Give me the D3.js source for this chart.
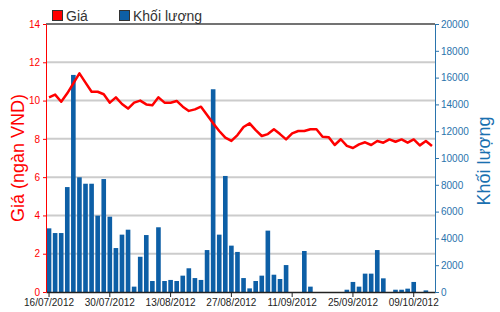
<!DOCTYPE html>
<html>
<head>
<meta charset="utf-8">
<script src="https://cdn.jsdelivr.net/npm/d3@7"></script>
<style>
  body { margin: 0; background: #fff; }
  svg { display: block; font-family: 'Liberation Sans', Arial, sans-serif; }
</style>
</head>
<body>
<div id="chart"></div>
<script>
// trading days shown on the x axis
const dates = [
  '16/07/2012', '17/07/2012', '18/07/2012', '19/07/2012', '20/07/2012',
  '23/07/2012', '24/07/2012', '25/07/2012', '26/07/2012', '27/07/2012',
  '30/07/2012', '31/07/2012', '01/08/2012', '02/08/2012', '03/08/2012',
  '06/08/2012', '07/08/2012', '08/08/2012', '09/08/2012', '10/08/2012',
  '13/08/2012', '14/08/2012', '15/08/2012', '16/08/2012', '17/08/2012',
  '20/08/2012', '21/08/2012', '22/08/2012', '23/08/2012', '24/08/2012',
  '27/08/2012', '28/08/2012', '29/08/2012', '30/08/2012', '31/08/2012',
  '04/09/2012', '05/09/2012', '06/09/2012', '07/09/2012', '10/09/2012',
  '11/09/2012', '12/09/2012', '13/09/2012', '14/09/2012', '17/09/2012',
  '18/09/2012', '19/09/2012', '20/09/2012', '21/09/2012', '24/09/2012',
  '25/09/2012', '26/09/2012', '27/09/2012', '28/09/2012', '01/10/2012',
  '02/10/2012', '03/10/2012', '04/10/2012', '05/10/2012', '08/10/2012',
  '09/10/2012', '10/10/2012', '11/10/2012', '12/10/2012'
]

// Giá (ngàn VND)
const prices = [
  10.17, 10.31, 9.94, 10.38, 10.90, 11.42, 10.94, 10.46, 10.46, 10.33,
  9.89, 10.17, 9.82, 9.58, 9.89, 10.0, 9.80, 9.75, 10.17, 9.89,
  9.89, 9.98, 9.68, 9.46, 9.54, 9.68, 9.25, 8.81, 8.41, 8.06,
  7.89, 8.20, 8.62, 8.81, 8.46, 8.15, 8.25, 8.50, 8.25, 7.97,
  8.29, 8.41, 8.41, 8.50, 8.50, 8.11, 8.09, 7.68, 7.98, 7.63,
  7.52, 7.71, 7.82, 7.68, 7.89, 7.80, 7.97, 7.85, 7.97, 7.80,
  7.97, 7.66, 7.89, 7.63
]

// Khối lượng
const volumes = [
  4750, 4400, 4400, 7830, 16200, 8560, 8080, 8080, 5700, 8430,
  5620, 3280, 4280, 4650, 400, 2630, 4250, 820, 4830, 820,
  900, 820, 1220, 1770, 1040, 900, 3130, 15130, 4280, 8660,
  3460, 2990, 1040, 270, 820, 1220, 4580, 1290, 970, 2010,
  0, 0, 3060, 400, 0, 0, 0, 0, 0, 170,
  750, 400, 1370, 1370, 3130, 1020, 0, 170, 170, 250,
  750, 0, 120, 0
]

const priceTicks = [0, 2, 4, 6, 8, 10, 12, 14]
const volumeTicks = [0, 2000, 4000, 6000, 8000, 10000, 12000, 14000, 16000, 18000, 20000]
const dateTicks = ['16/07/2012', '30/07/2012', '13/08/2012', '27/08/2012', '11/09/2012', '25/09/2012', '09/10/2012']

const width = 500
const height = 312
const margin = { top: 24, right: 65, bottom: 20, left: 46 }
const RED = '#ff0000'
const BLUE = '#0d5fa6'
const AXIS_BLUE = '#2a74ad'

const svg = d3.select('#chart')
  .append('svg')
  .attr('width', width)
  .attr('height', height)

const x = d3.scaleBand()
  .domain(dates)
  .range([margin.left, width - margin.right])
  .paddingInner(0.24)
  .paddingOuter(0.12)

const yPrice = d3.scaleLinear()
  .domain([0, 14])
  .range([height - margin.bottom, margin.top])

const yVolume = d3.scaleLinear()
  .domain([0, 20000])
  .range([height - margin.bottom, margin.top])

const rows = dates.map((d, i) => ({ date: d, price: prices[i], volume: volumes[i] }))

// grid lines
svg.append('g')
  .attr('class', 'grid')
  .selectAll('line')
  .data(priceTicks.filter(t => t > 0 && t < 14))
  .enter()
  .append('line')
  .attr('x1', margin.left)
  .attr('x2', width - margin.right)
  .attr('y1', d => yPrice(d))
  .attr('y2', d => yPrice(d))
  .attr('stroke', '#cccccc')
  .attr('stroke-width', 2)

// top border
svg.append('line')
  .attr('x1', margin.left)
  .attr('x2', width - margin.right)
  .attr('y1', margin.top)
  .attr('y2', margin.top)
  .attr('stroke', '#444')
  .attr('stroke-width', 1.5)

// volume bars
svg.append('g')
  .attr('class', 'bars')
  .selectAll('rect')
  .data(rows)
  .enter()
  .append('rect')
  .attr('x', d => x(d.date))
  .attr('y', d => yVolume(d.volume))
  .attr('width', x.bandwidth())
  .attr('height', d => yVolume(0) - yVolume(d.volume))
  .attr('fill', BLUE)

// x axis
const xAxis = svg.append('g')
  .attr('transform', `translate(0, ${height - margin.bottom})`)
  .call(d3.axisBottom(x).tickValues(dateTicks).tickSize(5).tickSizeOuter(0))
xAxis.select('.domain').attr('stroke', '#222').attr('stroke-width', 1.5)
xAxis.selectAll('.tick line').attr('stroke', '#222')
xAxis.selectAll('.tick text')
  .attr('fill', '#222')
  .attr('font-size', '10px')
  .attr('font-family', "'Liberation Sans', Arial, sans-serif")
  .attr('dy', '0.62em')

// left axis (price)
const leftAxis = svg.append('g')
  .attr('transform', `translate(${margin.left}, 0)`)
  .call(d3.axisLeft(yPrice).tickValues(priceTicks).tickSize(3).tickSizeOuter(0).tickPadding(3))
leftAxis.select('.domain').attr('stroke', RED)
leftAxis.selectAll('.tick line').attr('stroke', RED)
leftAxis.selectAll('.tick text')
  .attr('fill', RED)
  .attr('font-size', '10px')
  .attr('font-family', "'Liberation Sans', Arial, sans-serif")

// right axis (volume)
const rightAxis = svg.append('g')
  .attr('transform', `translate(${width - margin.right}, 0)`)
  .call(d3.axisRight(yVolume)
    .tickValues(volumeTicks)
    .tickFormat(d3.format('d'))
    .tickSize(4)
    .tickSizeOuter(0)
    .tickPadding(2))
rightAxis.select('.domain').attr('stroke', AXIS_BLUE)
rightAxis.selectAll('.tick line').attr('stroke', AXIS_BLUE)
rightAxis.selectAll('.tick text')
  .attr('fill', AXIS_BLUE)
  .attr('font-size', '10px')
  .attr('font-family', "'Liberation Sans', Arial, sans-serif")

// price line
const line = d3.line()
  .x(d => x(d.date) + x.bandwidth() / 2)
  .y(d => yPrice(d.price))

svg.append('path')
  .datum(rows)
  .attr('d', line)
  .attr('fill', 'none')
  .attr('stroke', RED)
  .attr('stroke-width', 2.5)
  .attr('stroke-linejoin', 'round')

// axis titles
svg.append('text')
  .attr('transform', `translate(24, 158) rotate(-90)`)
  .attr('text-anchor', 'middle')
  .attr('font-size', '18px')
  .attr('fill', RED)
  .text('Giá (ngàn VND)')

svg.append('text')
  .attr('transform', `translate(490, 161) rotate(-90)`)
  .attr('text-anchor', 'middle')
  .attr('font-size', '18px')
  .attr('fill', '#1a70b0')
  .text('Khối lượng')

// legend
const legendItems = [
  { label: 'Giá', color: RED, x: 52 },
  { label: 'Khối lượng', color: BLUE, x: 119 }
]
const legend = svg.append('g')
  .attr('class', 'legend')
  .selectAll('g')
  .data(legendItems)
  .enter()
  .append('g')
  .attr('transform', d => `translate(${d.x}, 10)`)

legend.append('rect')
  .attr('x', 0.5)
  .attr('y', 0.5)
  .attr('width', 10)
  .attr('height', 10)
  .attr('fill', d => d.color)
  .attr('stroke', '#333')

legend.append('text')
  .attr('x', 14)
  .attr('y', 11)
  .attr('font-size', '14px')
  .attr('fill', '#333')
  .text(d => d.label)
</script>
</body>
</html>
